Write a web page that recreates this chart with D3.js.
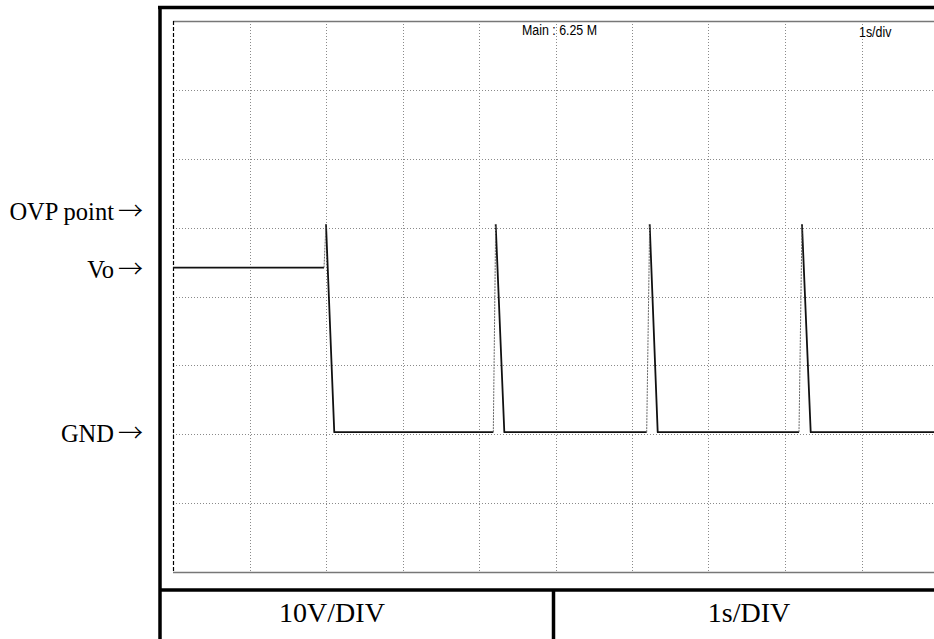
<!DOCTYPE html>
<html>
<head>
<meta charset="utf-8">
<script src="https://cdn.jsdelivr.net/npm/d3@7"></script>
<style>
  html, body { margin: 0; padding: 0; background: #fff; }
  svg { display: block; }
</style>
</head>
<body>
<svg id="chart" width="934" height="639"></svg>
<script>
// Trace samples: time in seconds, voltage in volts
const traceTime = [0, 1.974, 2.0, 2.108, 4.187, 4.218, 4.331, 6.192, 6.231, 6.336, 8.183, 8.222, 8.336, 10];
const traceVolt = [24.2, 24.2, 30.5, 0.3, 0.3, 30.5, 0.3, 0.3, 30.5, 0.3, 0.3, 30.5, 0.3, 0.3];
// Indices where a rising edge starts (drawn as a faint fast edge)
const risingStarts = [1, 4, 7, 10];

// Screen divisions
const timeDivs = d3.range(0, 11, 1);        // 1 s/div
const voltDivs = d3.range(-20, 61, 10);     // 10 V/div

// Marker labels on the left
const markerLabels = ["OVP point", "Vo", "GND"];
const markerBaselines = [220, 278, 442];

const headerLabels = ["Main : 6.25 M", "1s/div"];
const scaleLabels = ["10V/DIV", "1s/DIV"];

const svg = d3.select("#chart");

const x = d3.scaleLinear().domain([0, 10]).range([173, 938]);
const y = d3.scaleLinear().domain([-20, 60]).range([572, 21]);

// Outer frame
const frame = svg.append("g").attr("stroke", "#000").attr("stroke-width", 3.5);
frame.append("line").attr("x1", 158).attr("x2", 934).attr("y1", 7.5).attr("y2", 7.5);
frame.append("line").attr("x1", 160).attr("x2", 160).attr("y1", 6).attr("y2", 639);
frame.append("line").attr("x1", 160).attr("x2", 934).attr("y1", 590).attr("y2", 590);
frame.append("line").attr("x1", 553.5).attr("x2", 553.5).attr("y1", 590).attr("y2", 639);

// Grid
const grid = svg.append("g")
  .attr("stroke", "#8a8a8a")
  .attr("stroke-width", 1)
  .attr("stroke-dasharray", "1,2");
grid.selectAll("line.v")
  .data(timeDivs.slice(1, -1))
  .join("line")
  .attr("class", "v")
  .attr("x1", d => Math.round(x(d)) + 0.5)
  .attr("x2", d => Math.round(x(d)) + 0.5)
  .attr("y1", y(60))
  .attr("y2", y(-20));
grid.selectAll("line.h")
  .data(voltDivs.slice(1, -1))
  .join("line")
  .attr("class", "h")
  .attr("x1", x(0))
  .attr("x2", x(10))
  .attr("y1", d => Math.round(y(d)) + 0.5)
  .attr("y2", d => Math.round(y(d)) + 0.5);

// Screen border
svg.append("line")
  .attr("x1", x(0)).attr("x2", x(10))
  .attr("y1", Math.round(y(60)) + 0.5).attr("y2", Math.round(y(60)) + 0.5)
  .attr("stroke", "#777").attr("stroke-width", 1.3);
svg.append("line")
  .attr("x1", x(0)).attr("x2", x(10))
  .attr("y1", Math.round(y(-20)) + 0.5).attr("y2", Math.round(y(-20)) + 0.5)
  .attr("stroke", "#777").attr("stroke-width", 1.3);
svg.append("line")
  .attr("x1", x(0) + 0.5).attr("x2", x(0) + 0.5)
  .attr("y1", y(60)).attr("y2", y(-20))
  .attr("stroke", "#000").attr("stroke-width", 1.2)
  .attr("stroke-dasharray", "4,2");

// Waveform
const pts = traceTime.map((t, i) => [t, traceVolt[i]]);
const line = d3.line().x(d => x(d[0])).y(d => y(d[1]));

// Slow segments (solid)
const solidSegs = [];
let cur = [pts[0]];
for (let i = 1; i < pts.length; i++) {
  if (risingStarts.includes(i - 1)) {
    solidSegs.push(cur);
    cur = [pts[i]];
  } else {
    cur.push(pts[i]);
  }
}
solidSegs.push(cur);

svg.append("g")
  .selectAll("path")
  .data(solidSegs)
  .join("path")
  .attr("d", line)
  .attr("fill", "none")
  .attr("stroke", "#111")
  .attr("stroke-width", 1.8)
  .attr("stroke-linejoin", "round");

// Fast rising edges
svg.append("g")
  .selectAll("path")
  .data(risingStarts.map(i => [pts[i], pts[i + 1]]))
  .join("path")
  .attr("d", line)
  .attr("fill", "none")
  .attr("stroke", "#666")
  .attr("stroke-width", 1)
  .attr("stroke-dasharray", "2,1");

// Header readouts (narrow sans)
const hdr = svg.append("g")
  .attr("font-family", "'Liberation Sans', Arial, sans-serif")
  .attr("font-size", 15.5)
  .attr("fill", "#000");
hdr.append("text").attr("transform", "translate(522,35) scale(0.8,1)").text(headerLabels[0]);
hdr.append("text").attr("transform", "translate(859,37) scale(0.8,1)").text(headerLabels[1]);

// Marker labels with arrows
const marks = svg.append("g")
  .attr("font-family", "'Liberation Serif', 'Times New Roman', serif")
  .attr("font-size", 24.5)
  .attr("fill", "#000")
  .attr("text-anchor", "end")
  .selectAll("text")
  .data(markerLabels)
  .join("text")
  .attr("x", 143)
  .attr("y", (d, i) => markerBaselines[i]);
marks.append("tspan").text(d => d);
marks.append("tspan")
  .attr("dx", 4)
  .attr("font-family", "'Noto Sans CJK JP', 'DejaVu Sans', sans-serif")
  .attr("font-size", 25)
  .attr("font-weight", 300)
  .text("\u2192");

// Scale table
svg.append("g")
  .attr("font-family", "'Liberation Serif', 'Times New Roman', serif")
  .attr("font-size", 28)
  .attr("fill", "#000")
  .attr("text-anchor", "middle")
  .selectAll("text")
  .data(scaleLabels)
  .join("text")
  .attr("x", (d, i) => [332, 749][i])
  .attr("y", 622)
  .text(d => d);
</script>
</body>
</html>
